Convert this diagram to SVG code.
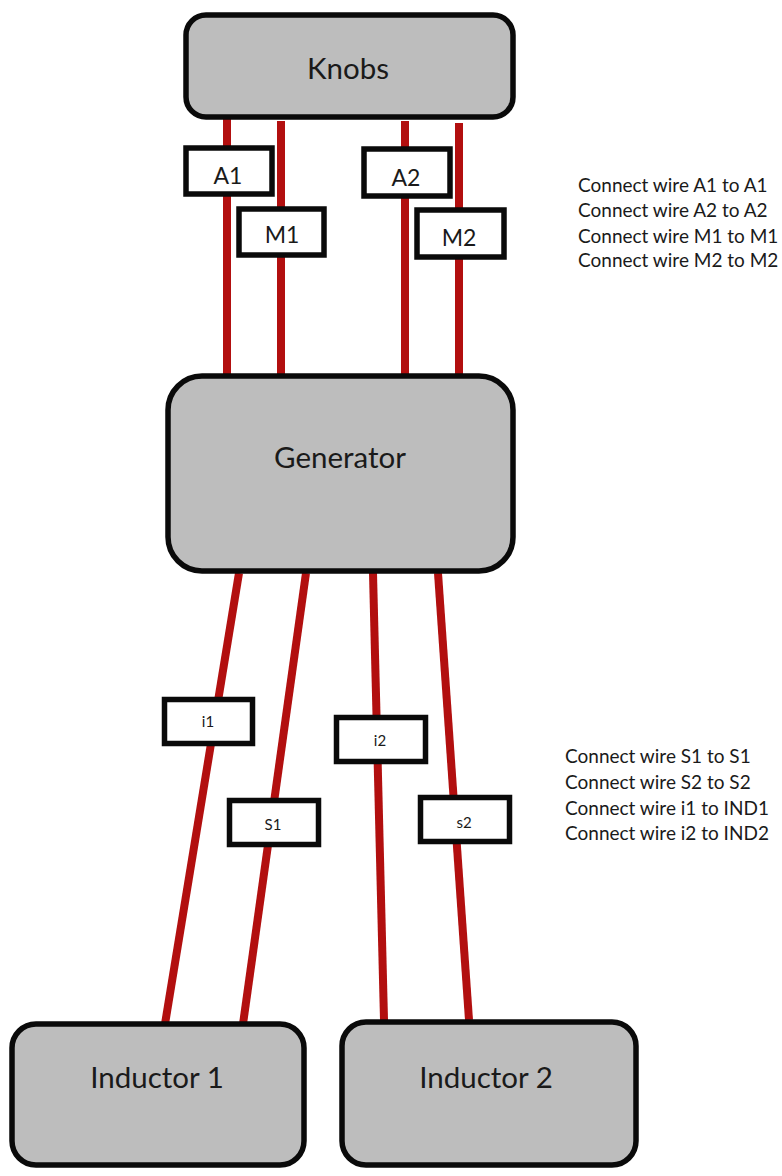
<svg xmlns="http://www.w3.org/2000/svg" width="782" height="1176" viewBox="0 0 782 1176">
<style>
.n{fill:#bdbdbd;stroke:#0a0a0a;stroke-width:5.5}
.l{fill:#fff;stroke:#0a0a0a;stroke-width:5.5}
.w{stroke:#b20f0f;stroke-width:8;fill:none}
text{font-family:Lato,"Open Sans","Liberation Sans",sans-serif;fill:#1a1a1a}
.big{font-size:29.500px;text-anchor:middle}
.mid{font-size:23px;text-anchor:middle}
.sm{font-size:15px;text-anchor:middle}
.note{font-size:19px}
</style>
<rect width="782" height="1176" fill="#fff"/>
<g id="connectors">
<path class="w" d="M227 118V376"/><path class="w" d="M281 121V376"/><path class="w" d="M405 121V376"/><path class="w" d="M459 123V376"/>
<path class="w" d="M239 573L165 1024"/><path class="w" d="M306 573L243 1024"/><path class="w" d="M373 573L384 1020"/><path class="w" d="M438 573L469 1020"/>
</g>
<g id="knobs"><rect class="n" x="186" y="15" width="327" height="102" rx="20"/><text class="big" x="348" y="79">Knobs</text></g>
<g id="generator"><rect class="n" x="168" y="376" width="345" height="195" rx="34"/><text class="big" x="340" y="468">Generator</text></g>
<g id="inductor1"><rect class="n" x="12" y="1024" width="292" height="141" rx="24"/><text class="big" x="157" y="1088">Inductor 1</text></g>
<g id="inductor2"><rect class="n" x="342" y="1022" width="294" height="143" rx="24"/><text class="big" x="486" y="1088">Inductor 2</text></g>
<g id="a1"><rect class="l" x="186" y="148" width="86" height="46"/><text class="mid" x="228" y="184">A1</text></g>
<g id="m1"><rect class="l" x="239" y="209" width="85" height="46"/><text class="mid" x="282" y="243">M1</text></g>
<g id="a2"><rect class="l" x="364" y="149" width="86" height="47"/><text class="mid" x="406" y="186">A2</text></g>
<g id="m2"><rect class="l" x="417" y="210" width="87" height="47"/><text class="mid" x="459" y="246">M2</text></g>
<g id="i1"><rect class="l" x="164.500" y="699.500" width="88" height="44"/><text class="sm" x="208" y="727">i1</text></g>
<g id="s1"><rect class="l" x="229.500" y="800.500" width="89" height="44"/><text class="sm" x="273" y="830">S1</text></g>
<g id="i2"><rect class="l" x="336.500" y="717.500" width="89" height="44"/><text class="sm" x="380" y="746">i2</text></g>
<g id="s2"><rect class="l" x="420.500" y="797.500" width="89" height="44"/><text class="sm" x="464" y="828">s2</text></g>
<g id="notes-top"><text class="note" x="578" y="192">Connect wire A1 to A1</text><text class="note" x="578" y="217">Connect wire A2 to A2</text><text class="note" x="578" y="243">Connect wire M1 to M1</text><text class="note" x="578" y="267">Connect wire M2 to M2</text></g>
<g id="notes-bottom"><text class="note" x="565" y="763">Connect wire S1 to S1</text><text class="note" x="565" y="789">Connect wire S2 to S2</text><text class="note" x="565" y="815">Connect wire i1 to IND1</text><text class="note" x="565" y="840">Connect wire i2 to IND2</text></g>
</svg>
